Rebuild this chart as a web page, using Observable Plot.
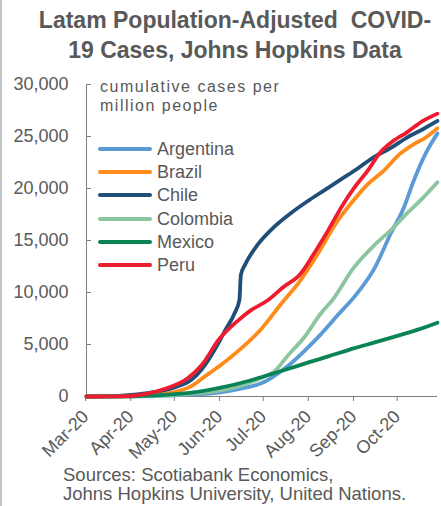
<!DOCTYPE html>
<html>
<head>
<meta charset="utf-8">
<script src="https://cdn.jsdelivr.net/npm/d3@7"></script>
<script src="https://cdn.jsdelivr.net/npm/@observablehq/plot@0.6"></script>
<style>
  html, body { margin: 0; padding: 0; background: #fff; }
  #wrap { position: relative; width: 441px; height: 506px; overflow: hidden;
          font-family: "Liberation Sans", Arial, sans-serif; color: #595959; }
  #edge { position: absolute; left: 0; top: 0; width: 2px; height: 506px; background: #c4c4c4; }
  #title { position: absolute; left: 0; top: 5px; width: 470px; text-align: center;
           font-weight: bold; font-size: 23px; line-height: 30px; white-space: pre; color: #595959; }
  #chart { position: absolute; left: 0; top: 70px; }
  #note { position: absolute; left: 100px; top: 77px; font-size: 16px; line-height: 19px;
          letter-spacing: 1.5px; color: #595959; white-space: pre; }
  #legend { position: absolute; left: 0; top: 0; }
  .row { position: absolute; left: 98px; height: 20px; line-height: 20px; font-size: 18px; white-space: nowrap; }
  .sw { position: absolute; left: 0; top: 8px; width: 54px; height: 4px; border-radius: 2px; }
  .lab { position: absolute; left: 59px; top: 0; }
  #source { position: absolute; left: 63px; top: 465px; font-size: 18.5px; line-height: 19px; color: #595959; white-space: pre; }
</style>
</head>
<body>
<div id="wrap">
  <div id="edge"></div>
  <div id="title"></div>
  <div id="chart"></div>
  <div id="note"></div>
  <div id="legend"></div>
  <div id="source"></div>
</div>
<script>
// ---- Text ----
const titleLines = ["Latam Population-Adjusted  COVID-", "19 Cases, Johns Hopkins Data"];
const noteLines = ["cumulative cases per", "million people"];
const sourceLines = ["Sources: Scotiabank Economics,", "Johns Hopkins University, United Nations."];

// ---- Categories & colours ----
const countries = ["Argentina", "Brazil", "Chile", "Colombia", "Mexico", "Peru"];
const colors = ["#5b9bd5", "#ff8c1a", "#1f4e79", "#8cc5a0", "#0b8455", "#ee1c2e"];

// ---- Axis ticks ----
const yTicks = [0, 5000, 10000, 15000, 20000, 25000, 30000];
const monthTicks = ["2020-03-01", "2020-04-01", "2020-05-01", "2020-06-01", "2020-07-01", "2020-08-01", "2020-09-01", "2020-10-01"];
const xDomain = ["2020-03-01", "2020-10-28"];

// ---- Series: cumulative cases per million people ----
const argentina = [["2020-03-01",0],["2020-03-20",2],["2020-04-01",20],["2020-04-15",50],["2020-05-01",100],["2020-05-15",200],["2020-06-01",400],["2020-06-15",750],["2020-07-01",1400],["2020-07-06",1800],["2020-07-17",2900],["2020-07-28",4300],["2020-08-09",6000],["2020-08-21",7900],["2020-09-01",9600],["2020-09-15",12400],["2020-09-26",15700],["2020-10-05",18200],["2020-10-11",20500],["2020-10-20",23400],["2020-10-28",25300]];
const brazil = [["2020-03-01",0],["2020-03-20",5],["2020-04-01",30],["2020-04-15",150],["2020-05-01",450],["2020-05-12",1000],["2020-05-20",1800],["2020-06-01",3000],["2020-06-15",4600],["2020-06-29",6500],["2020-07-12",8800],["2020-07-26",11200],["2020-08-08",14000],["2020-08-19",16600],["2020-08-31",18800],["2020-09-10",20400],["2020-09-21",21700],["2020-10-02",23300],["2020-10-11",24200],["2020-10-20",24900],["2020-10-28",25800]];
const chile = [["2020-03-01",0],["2020-03-15",10],["2020-04-01",150],["2020-04-15",400],["2020-05-01",900],["2020-05-12",1600],["2020-05-19",2600],["2020-06-01",5500],["2020-06-04",6300],["2020-06-11",8100],["2020-06-14",9300],["2020-06-15",11700],["2020-06-18",12700],["2020-06-26",14500],["2020-07-07",16200],["2020-07-19",17600],["2020-07-31",18800],["2020-08-11",19800],["2020-08-23",20900],["2020-09-03",21900],["2020-09-14",23000],["2020-09-26",23900],["2020-10-07",24900],["2020-10-18",25700],["2020-10-28",26500]];
const colombia = [["2020-03-01",0],["2020-03-20",2],["2020-04-01",20],["2020-04-15",60],["2020-05-01",150],["2020-05-15",300],["2020-06-01",600],["2020-06-15",1050],["2020-07-01",1900],["2020-07-08",2400],["2020-07-17",3900],["2020-07-28",5600],["2020-08-09",8000],["2020-08-17",9300],["2020-08-31",12300],["2020-09-15",14600],["2020-09-26",16000],["2020-10-07",17600],["2020-10-18",19100],["2020-10-28",20600]];
const mexico = [["2020-03-01",0],["2020-03-20",5],["2020-04-01",20],["2020-04-15",80],["2020-05-01",220],["2020-05-15",420],["2020-06-01",850],["2020-06-15",1300],["2020-07-01",1950],["2020-07-15",2550],["2020-08-01",3300],["2020-08-15",3900],["2020-09-01",4650],["2020-09-15",5200],["2020-10-01",5850],["2020-10-15",6450],["2020-10-28",7100]];
const peru = [["2020-03-01",0],["2020-03-15",5],["2020-04-01",60],["2020-04-11",250],["2020-04-25",800],["2020-05-09",1700],["2020-05-19",3000],["2020-05-31",5500],["2020-06-13",7300],["2020-06-22",8300],["2020-07-03",9200],["2020-07-14",10500],["2020-07-26",11800],["2020-08-04",13700],["2020-08-14",16000],["2020-08-23",18200],["2020-09-01",20100],["2020-09-10",21700],["2020-09-19",23500],["2020-09-26",24400],["2020-10-07",25400],["2020-10-18",26500],["2020-10-28",27200]];

const seriesByCountry = { Argentina: argentina, Brazil: brazil, Chile: chile, Colombia: colombia, Mexico: mexico, Peru: peru };

// ---- Build ----
const parse = d3.utcParse("%Y-%m-%d");
const rows = countries.flatMap(c => seriesByCountry[c].map(([d, v]) => ({ country: c, date: parse(d), value: v })));

document.getElementById("title").innerHTML = titleLines.join("<br>");
document.getElementById("note").innerHTML = noteLines.join("<br>");
document.getElementById("source").innerHTML = sourceLines.join("<br>");

const legend = document.getElementById("legend");
countries.forEach((c, i) => {
  const row = document.createElement("div");
  row.className = "row";
  row.style.top = (139 + i * 23.2) + "px";
  const sw = document.createElement("span");
  sw.className = "sw";
  sw.style.background = colors[i];
  const lab = document.createElement("span");
  lab.className = "lab";
  lab.textContent = c;
  row.appendChild(sw);
  row.appendChild(lab);
  legend.appendChild(row);
});

const axisGray = "#7f7f7f";
const textGray = "#595959";

const chart = Plot.plot({
  width: 441,
  height: 395,
  marginLeft: 86,
  marginRight: 4,
  marginTop: 14,
  marginBottom: 69,
  style: { fontFamily: "'Liberation Sans', Arial, sans-serif", fontSize: "18px", color: textGray, background: "transparent", overflow: "visible" },
  x: { type: "utc", domain: xDomain.map(parse) },
  y: { domain: [0, 30000] },
  color: { domain: countries, range: colors },
  marks: [
    Plot.axisY({ ticks: yTicks, tickSize: -5, tickPadding: 23, tickFormat: d3.format(","), label: null, stroke: axisGray, fill: textGray }),
    Plot.axisX({ ticks: monthTicks.map(parse), tickSize: 5, tickPadding: 12, dx: -1, tickRotate: -45, tickFormat: d3.utcFormat("%b-%y"), label: null, stroke: axisGray, fill: textGray }),
    Plot.ruleX([parse(xDomain[0])], { stroke: axisGray }),
    Plot.ruleY([0], { stroke: axisGray }),
    Plot.line(rows, { x: "date", y: "value", z: "country", stroke: "country", strokeWidth: 3.8, curve: "monotone-x", strokeLinejoin: "round", strokeLinecap: "round" })
  ]
});
document.getElementById("chart").appendChild(chart);
</script>
</body>
</html>
